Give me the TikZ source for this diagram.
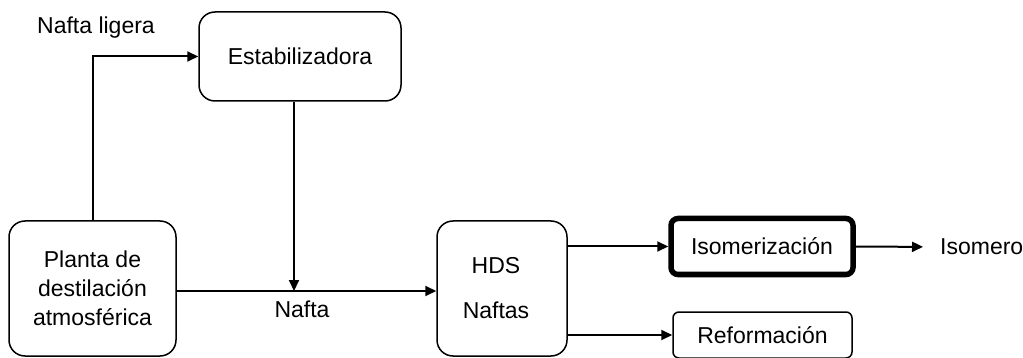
\documentclass[tikz,border=0pt]{standalone}
\usepackage{fontspec}
\setmainfont{Liberation Sans}
\usetikzlibrary{arrows.meta}
\begin{document}
\begin{tikzpicture}[x=1pt,y=-1pt,
  every node/.style={font=\fontsize{23}{29}\selectfont},
  unit/.style={draw,line width=1.5pt,rounded corners=16pt,align=center,inner sep=0pt},
  flow/.style={line width=2pt,-{Triangle[length=11pt,width=10pt]}},
  lbl/.style={inner sep=0pt}]
\useasboundingbox (0,0) rectangle (1023,358);

\node[unit,minimum width=202pt,minimum height=89pt] (estab) at (300,56.5) {Estabilizadora};
\node[unit,minimum width=167pt,minimum height=135pt] (planta) at (92.5,288.5)
  {Planta de\\destilación\\atmosférica};
\node[unit,minimum width=130pt,minimum height=135pt] (hds) at (502,288.5)
  {\hspace*{-12pt}HDS\\[16pt]\hspace*{-12pt}Naftas};
\node[unit,line width=5.5pt,rounded corners=7pt,minimum width=182pt,minimum height=56pt] (iso) at (762,246.5) {Isomerización};
\node[unit,rounded corners=6pt,minimum width=179pt,minimum height=46pt] (ref) at (762.5,335) {Reformación};

\node[lbl] (ligera) at (96,28) {Nafta ligera};
\node[lbl,anchor=west] (isomero) at (940,247) {Isomero};
\node[lbl] (nafta) at (302,309) {Nafta};

\coordinate (join) at (294,291);

\draw[flow] (planta.north) |- (estab.west);
\draw[flow] (estab.south -| join) -- (join);
\draw[flow] (planta.east |- join) -- (hds.west |- join);
\draw[flow] (hds.east |- iso.west) -- (iso.west);
\draw[flow] (hds.east |- ref.west) -- (ref.west);
\draw[flow,shorten >=17pt] (iso.east) -- (isomero.west);
\end{tikzpicture}
\end{document}
